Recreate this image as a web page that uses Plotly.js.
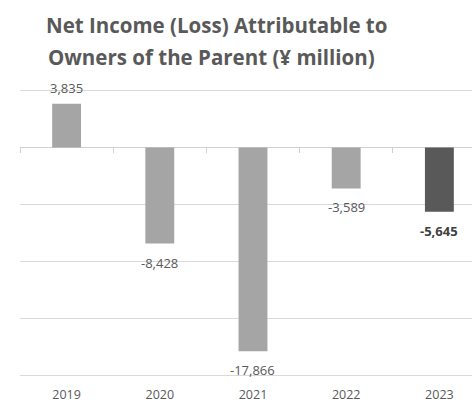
<!DOCTYPE html>
<html>
<head>
<meta charset="utf-8">
<script src="https://cdn.plot.ly/plotly-3.0.1.min.js"></script>
<style>html,body{margin:0;padding:0;background:#fff;}#chart{width:472px;height:403px;}</style>
</head>
<body>
<div id="chart"></div>
<script>
const years = ['2019', '2020', '2021', '2022', '2023'];
const netIncome = [3835, -8428, -17866, -3589, -5645];
const barColors = ['#a5a5a5', '#a5a5a5', '#a5a5a5', '#a5a5a5', '#595959'];
const titleLine1 = 'Net Income (Loss) Attributable to';
const titleLine2 = 'Owners of the Parent (¥ million)';

const labelAnnotations = years.map((yr, i) => ({
  x: i, y: netIncome[i], xref: 'x', yref: 'y',
  text: netIncome[i].toLocaleString('en-US'),
  showarrow: false,
  yshift: netIncome[i] >= 0 ? 16 : -19,
  font: {family: 'Open Sans, sans-serif', size: 13, color: i === 4 ? '#404040' : '#595959', weight: i === 4 ? 'bold' : 'normal'}
}));

const data = [
  {type: 'bar', x: years, y: netIncome, marker: {color: barColors}, hoverinfo: 'skip'},
  {type: 'scatter', x: years, y: years.map(() => null), xaxis: 'x2', mode: 'markers', showlegend: false, hoverinfo: 'skip'}
];

const yMin = -20300, yMax = 5300;

const layout = {
  width: 472, height: 403,
  margin: {l: 20, r: 0, t: 86.6, b: 23.6},
  paper_bgcolor: '#ffffff', plot_bgcolor: '#ffffff',
  showlegend: false,
  bargap: 0.69,
  title: {
    text: titleLine1, xref: 'container', yref: 'container',
    x: 46 / 472, xanchor: 'left', y: 1 - 26 / 403, yanchor: 'middle',
    font: {family: 'Open Sans, sans-serif', size: 20.5, color: '#595959', weight: 'bold'}
  },
  xaxis: {
    type: 'category', range: [-0.5, 4.35],
    showgrid: false, zeroline: false, showline: false, ticks: '',
    tickfont: {family: 'Open Sans, sans-serif', size: 12.5, color: '#595959'},
    ticklabelstandoff: 6
  },
  xaxis2: {
    type: 'category', matches: 'x', overlaying: 'x', anchor: 'free', position: (0 - yMin) / (yMax - yMin),
    showgrid: false, zeroline: false, showline: false, showticklabels: false,
    ticks: 'outside', tickson: 'boundaries', ticklen: 5, tickcolor: '#d0d0d0', tickwidth: 1
  },
  yaxis: {
    range: [yMin, yMax], dtick: 5000, tick0: 0,
    showticklabels: false, ticks: '',
    showgrid: true, gridcolor: '#d9d9d9', gridwidth: 1,
    zeroline: true, zerolinecolor: '#d0d0d0', zerolinewidth: 1,
    showline: false
  },
  annotations: [
    {text: titleLine2, xref: 'paper', yref: 'paper', x: (46 - 20) / 452, xanchor: 'left',
     y: (376 + 3.4 - 57) / 292.8, yanchor: 'middle', showarrow: false,
     font: {family: 'Open Sans, sans-serif', size: 20.5, color: '#595959', weight: 'bold'}}
  ].concat(labelAnnotations)
};

Plotly.newPlot('chart', data, layout, {displayModeBar: false, staticPlot: true});
</script>
</body>
</html>
